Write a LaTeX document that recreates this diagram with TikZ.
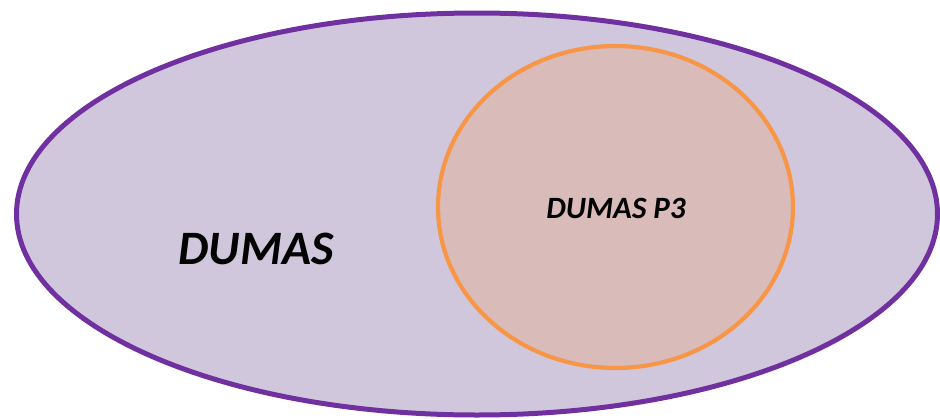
\documentclass[tikz,border=0pt]{standalone}
\usepackage{fontspec}
\setmainfont{Carlito}
\usepackage{xcolor}
\usetikzlibrary{shapes,positioning}

\definecolor{setline}{HTML}{7030A0}
\definecolor{setfill}{HTML}{D1C7DD}
\definecolor{subline}{HTML}{F79646}
\definecolor{subfill}{HTML}{D9BBBA}

\tikzset{
    outerset/.style={ellipse, draw=setline, fill=setfill, line width=5pt, inner sep=0pt,
        minimum width=921pt, minimum height=402pt},
    innerset/.style={ellipse, draw=subline, fill=subfill, line width=4.2pt, inner sep=0pt,
        minimum width=355pt, minimum height=322pt},
    setlabel/.style={font=\bfseries\itshape}
}

\begin{document}
\begin{tikzpicture}[x=1pt, y=-1pt]
        \useasboundingbox (0,0) rectangle (940,418);
        \node[outerset] (dumas) at (477,214) {};
        \node[innerset] (dumasp3) at (615.5,207) {};
        \node[setlabel, font=\bfseries\itshape\fontsize{48}{48}\selectfont] (dumaslabel) at (256,249) {DUMAS};
        \node[setlabel, font=\bfseries\itshape\fontsize{31}{31}\selectfont] (p3label) at (616,208) {DUMAS P3};
    \end{tikzpicture}
\end{document}
